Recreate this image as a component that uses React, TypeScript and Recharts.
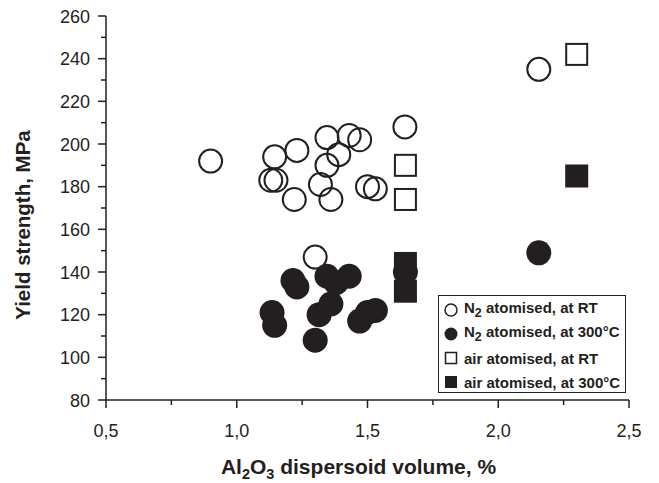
import {
  ScatterChart,
  Scatter,
  XAxis,
  YAxis,
  Legend,
} from "recharts";

const INK = "#231f20";
const FONT = "'Liberation Sans', Arial, sans-serif";

const X_TICKS = [0.5, 0.75, 1, 1.25, 1.5, 1.75, 2, 2.25, 2.5];
const X_MAJOR = [0.5, 1, 1.5, 2, 2.5];
const Y_TICKS = [80, 90, 100, 110, 120, 130, 140, 150, 160, 170, 180, 190, 200, 210, 220, 230, 240, 250, 260];
const Y_MAJOR = [80, 100, 120, 140, 160, 180, 200, 220, 240, 260];

// N2 atomised, tested at room temperature
const n2Rt = [
  { x: 0.9, y: 192 },
  { x: 1.145, y: 194 },
  { x: 1.23, y: 197 },
  { x: 1.13, y: 183 },
  { x: 1.15, y: 183 },
  { x: 1.22, y: 174 },
  { x: 1.345, y: 203 },
  { x: 1.43, y: 204 },
  { x: 1.47, y: 202 },
  { x: 1.39, y: 195 },
  { x: 1.345, y: 190 },
  { x: 1.32, y: 181 },
  { x: 1.36, y: 174 },
  { x: 1.5, y: 180 },
  { x: 1.53, y: 179 },
  { x: 1.643, y: 208 },
  { x: 1.3, y: 147 },
  { x: 2.155, y: 235 },
];

// N2 atomised, tested at 300°C
const n2Hot = [
  { x: 1.215, y: 136 },
  { x: 1.23, y: 133 },
  { x: 1.345, y: 138 },
  { x: 1.38, y: 135 },
  { x: 1.43, y: 138 },
  { x: 1.36, y: 125 },
  { x: 1.315, y: 120 },
  { x: 1.3, y: 108 },
  { x: 1.135, y: 121 },
  { x: 1.145, y: 115 },
  { x: 1.47, y: 117 },
  { x: 1.5, y: 121 },
  { x: 1.53, y: 122 },
  { x: 1.645, y: 140 },
  { x: 2.155, y: 149 },
];

const airRt = [
  { x: 1.645, y: 190 },
  { x: 1.645, y: 174 },
  { x: 2.3, y: 242 },
];

const airHot = [
  { x: 1.645, y: 144 },
  { x: 1.645, y: 131 },
  { x: 2.3, y: 185 },
];

const fmtX = (v: number) => v.toFixed(1).replace(".", ",");

const BottomTick = ({ x, y, payload }: any) => {
  const major = X_MAJOR.includes(payload.value);
  return (
    <g>
      <line x1={x} x2={x} y1={y} y2={y + (major ? 8 : 5)} stroke={INK} strokeWidth={1.5} />
      {major && (
        <text x={x} y={y + 37} textAnchor="middle" fontSize={18} fill={INK} fontFamily={FONT}>
          {fmtX(payload.value)}
        </text>
      )}
    </g>
  );
};

const LeftTick = ({ x, y, payload }: any) => {
  const major = Y_MAJOR.includes(payload.value);
  return (
    <g>
      <line x1={x} x2={x - (major ? 8 : 5)} y1={y} y2={y} stroke={INK} strokeWidth={1.5} />
      {major && (
        <text x={x - 16} y={y + 6.5} textAnchor="end" fontSize={18} fill={INK} fontFamily={FONT}>
          {payload.value}
        </text>
      )}
    </g>
  );
};

const XTitle = ({ viewBox }: any) => {
  const cx = viewBox.x + viewBox.width / 2 - 9;
  return (
    <text x={cx} y={viewBox.y + 74} textAnchor="middle" fontSize={21} fontWeight="bold" fill={INK} fontFamily={FONT}>
      Al<tspan fontSize={14.5} dy={5}>2</tspan>
      <tspan dy={-5}>O</tspan>
      <tspan fontSize={14.5} dy={5}>3</tspan>
      <tspan dy={-5}> dispersoid volume, %</tspan>
    </text>
  );
};

const YTitle = ({ viewBox }: any) => {
  const cy = viewBox.y + viewBox.height / 2 + 17;
  return (
    <text
      x={30}
      y={cy}
      transform={`rotate(-90, 30, ${cy})`}
      textAnchor="middle"
      fontSize={20.5}
      fontWeight="bold"
      fill={INK}
      fontFamily={FONT}
    >
      Yield strength, MPa
    </text>
  );
};

const OpenCircle = ({ cx, cy }: any) => (
  <circle cx={cx} cy={cy} r={11.5} fill="none" stroke={INK} strokeWidth={2} />
);
const FilledCircle = ({ cx, cy }: any) => <circle cx={cx} cy={cy} r={12.5} fill={INK} />;
const OpenSquare = ({ cx, cy }: any) => (
  <rect x={cx - 10.5} y={cy - 10.5} width={21} height={21} fill="none" stroke={INK} strokeWidth={2} />
);
const FilledSquare = ({ cx, cy }: any) => (
  <rect x={cx - 11.5} y={cy - 11.5} width={23} height={23} fill={INK} />
);

const LEGEND_ROWS = [
  { key: "n2rt", marker: "openCircle", label: <>N<sub>2</sub> atomised, at RT</> },
  { key: "n2hot", marker: "filledCircle", label: <>N<sub>2</sub> atomised, at 300°C</> },
  { key: "airrt", marker: "openSquare", label: <>air atomised, at RT</> },
  { key: "airhot", marker: "filledSquare", label: <>air atomised, at 300°C</> },
];

const LegendMarker = ({ kind }: { kind: string }) => (
  <svg width={16} height={16} style={{ flex: "none" }}>
    {kind === "openCircle" && <circle cx={8} cy={8} r={6} fill="none" stroke={INK} strokeWidth={1.5} />}
    {kind === "filledCircle" && <circle cx={8} cy={8} r={6.5} fill={INK} />}
    {kind === "openSquare" && <rect x={2.5} y={2.5} width={11} height={11} fill="none" stroke={INK} strokeWidth={1.5} />}
    {kind === "filledSquare" && <rect x={2} y={2} width={12} height={12} fill={INK} />}
  </svg>
);

const LegendBox = () => (
  <div
    style={{
      border: `1.5px solid ${INK}`,
      background: "#fff",
      width: 188,
      height: 98,
      boxSizing: "border-box",
      padding: "2px 0 0 4px",
      fontFamily: FONT,
      fontWeight: "bold",
      fontSize: 15,
      color: INK,
    }}
  >
    {LEGEND_ROWS.map((r) => (
      <div key={r.key} style={{ display: "flex", alignItems: "center", gap: 5, height: 24, whiteSpace: "nowrap" }}>
        <LegendMarker kind={r.marker} />
        <span style={{ lineHeight: "15px" }}>{r.label}</span>
      </div>
    ))}
  </div>
);

export default function App() {
  return (
    <div style={{ position: "absolute", left: 0, top: 0, background: "#fff" }}>
      <ScatterChart width={659} height={483} margin={{ top: 16, right: 30, left: 0, bottom: 0 }}>
        <XAxis
          type="number"
          dataKey="x"
          domain={[0.5, 2.5]}
          ticks={X_TICKS}
          interval={0}
          height={83}
          tickSize={0}
          tickMargin={0}
          tickLine={false}
          axisLine={{ stroke: INK, strokeWidth: 1.5 }}
          tick={<BottomTick />}
          label={<XTitle />}
        />
        <XAxis
          xAxisId="top"
          orientation="top"
          type="number"
          dataKey="x"
          domain={[0.5, 2.5]}
          ticks={X_TICKS}
          height={0}
          tick={false}
          tickLine={false}
          axisLine={{ stroke: INK, strokeWidth: 1.5 }}
        />
        <YAxis
          type="number"
          dataKey="y"
          domain={[80, 260]}
          ticks={Y_TICKS}
          interval={0}
          width={106}
          tickSize={0}
          tickMargin={0}
          tickLine={false}
          axisLine={{ stroke: INK, strokeWidth: 1.5 }}
          tick={<LeftTick />}
          label={<YTitle />}
        />
        <YAxis
          yAxisId="right"
          orientation="right"
          type="number"
          dataKey="y"
          domain={[80, 260]}
          ticks={Y_TICKS}
          interval={0}
          width={0}
          tickSize={3}
          tickFormatter={() => ""}
          tickLine={{ stroke: INK, strokeWidth: 1 }}
          axisLine={{ stroke: INK, strokeWidth: 1.5 }}
        />
        <Legend
          layout="vertical"
          verticalAlign="middle"
          align="center"
          content={<LegendBox />}
          wrapperStyle={{ left: 438, top: 295, width: 188, height: 98 }}
        />
        <Scatter name="N2 atomised, at RT" data={n2Rt} shape={<OpenCircle />} isAnimationActive={false} />
        <Scatter name="N2 atomised, at 300°C" data={n2Hot} shape={<FilledCircle />} isAnimationActive={false} />
        <Scatter name="air atomised, at RT" data={airRt} shape={<OpenSquare />} isAnimationActive={false} />
        <Scatter name="air atomised, at 300°C" data={airHot} shape={<FilledSquare />} isAnimationActive={false} />
      </ScatterChart>
    </div>
  );
}
